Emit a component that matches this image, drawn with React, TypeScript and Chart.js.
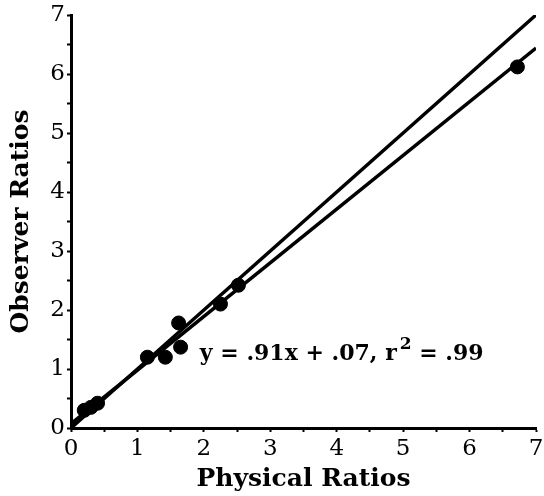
import React, { useEffect, useRef } from "react";
import { Chart, registerables } from "chart.js";

Chart.register(...registerables);

const physicalRatios = [0.2, 0.3, 0.4, 1.15, 1.42, 1.62, 1.65, 2.25, 2.52, 6.72];
const observerRatios = [0.3, 0.35, 0.42, 1.2, 1.2, 1.78, 1.37, 2.1, 2.42, 6.12];
const fitSlope = 0.91;
const fitIntercept = 0.07;
const axisMin = 0;
const axisMax = 7;
const equationParts = ["y = .91x + .07, r", "2", " = .99"];
const equationAnchor = { x: 1.94, y: 1.15 };

const equationPlugin = {
  id: "equation",
  afterDatasetsDraw(chart: any) {
    const { ctx, scales } = chart;
    const px = scales.x.getPixelForValue(equationAnchor.x);
    const py = scales.y.getPixelForValue(equationAnchor.y);
    ctx.save();
    ctx.fillStyle = "#000";
    ctx.textBaseline = "alphabetic";
    ctx.textAlign = "left";
    const main = "bold 22px 'DejaVu Serif'";
    const sup = "bold 17px 'DejaVu Serif'";
    let cx = px;
    ctx.font = main;
    ctx.fillText(equationParts[0], cx, py);
    cx += ctx.measureText(equationParts[0]).width + 3;
    ctx.font = sup;
    ctx.fillText(equationParts[1], cx, py - 11);
    cx += ctx.measureText(equationParts[1]).width;
    ctx.font = main;
    ctx.fillText(equationParts[2], cx, py);
    ctx.restore();
  },
};

export default function App() {
  const ref = useRef<HTMLCanvasElement>(null);
  useEffect(() => {
    if (!ref.current) return;
    const points = physicalRatios.map((x, i) => ({ x, y: observerRatios[i] }));
    const identity = [
      { x: axisMin, y: axisMin },
      { x: axisMax, y: axisMax },
    ];
    const fit = [
      { x: axisMin, y: fitIntercept + fitSlope * axisMin },
      { x: axisMax, y: fitIntercept + fitSlope * axisMax },
    ];
    const tickFont = { family: "'DejaVu Serif'", size: 23, weight: "normal" as const };
    const titleFont = { family: "'DejaVu Serif'", size: 25, weight: "bold" as const };
    const chart = new Chart(ref.current, {
      type: "scatter",
      data: {
        datasets: [
          {
            type: "line",
            data: identity,
            borderColor: "#000",
            borderWidth: 3.5,
            pointRadius: 0,
            fill: false,
          } as any,
          {
            type: "line",
            data: fit,
            borderColor: "#000",
            borderWidth: 3.5,
            pointRadius: 0,
            fill: false,
          } as any,
          {
            data: points,
            backgroundColor: "#000",
            borderColor: "#000",
            pointRadius: 7,
          },
        ],
      },
      options: {
        responsive: false,
        animation: false,
        devicePixelRatio: 1,
        layout: { padding: { top: 15, right: 3, left: 0, bottom: 0 } },
        plugins: { legend: { display: false }, tooltip: { enabled: false } },
        scales: {
          x: {
            type: "linear",
            min: axisMin,
            max: axisMax,
            ticks: {
              stepSize: 0.5,
              color: "#000",
              font: tickFont,
              padding: 3,
              maxRotation: 0,
              autoSkip: false,
              callback: (v: any) => (Number.isInteger(v) ? String(v) : ""),
            },
            grid: {
              drawOnChartArea: false,
              tickLength: 4,
              tickWidth: 2,
              tickColor: "#000",
            },
            border: { display: true, color: "#000", width: 3 },
            title: {
              display: true,
              text: "Physical Ratios",
              color: "#000",
              font: titleFont,
              padding: { top: 0, bottom: 2 },
            },
            afterFit(scale: any) {
              scale.height = 68;
              scale.paddingLeft = 0;
              scale.paddingRight = 0;
            },
          },
          y: {
            type: "linear",
            min: axisMin,
            max: axisMax,
            ticks: {
              stepSize: 0.5,
              color: "#000",
              font: tickFont,
              padding: 2,
              autoSkip: false,
              callback: (v: any) => (Number.isInteger(v) ? String(v) : ""),
            },
            grid: {
              drawOnChartArea: false,
              tickLength: 4,
              tickWidth: 2,
              tickColor: "#000",
            },
            border: { display: true, color: "#000", width: 3 },
            title: {
              display: true,
              text: "Observer Ratios",
              color: "#000",
              font: titleFont,
              padding: { top: 6, bottom: 0 },
            },
            afterFit(scale: any) {
              scale.width = 71;
              scale.paddingTop = 0;
              scale.paddingBottom = 0;
            },
          },
        },
      },
      plugins: [equationPlugin],
    });
    return () => chart.destroy();
  }, []);
  return (
    <div style={{ position: "absolute", left: 0, top: 0, width: 544, height: 496, background: "#fff" }}>
      <canvas ref={ref} width={544} height={496} style={{ width: 544, height: 496 }} />
    </div>
  );
}
